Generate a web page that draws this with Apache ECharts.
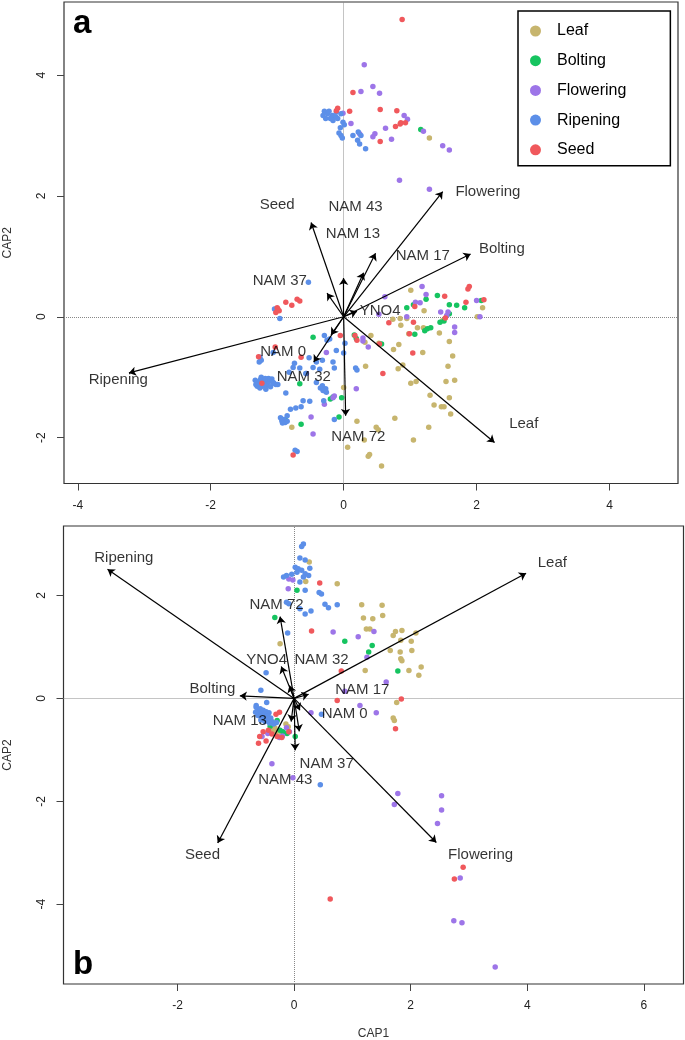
<!DOCTYPE html>
<html>
<head>
<meta charset="utf-8">
<script src="https://cdn.jsdelivr.net/npm/echarts@6/dist/echarts.min.js"></script>
<style>
html,body{margin:0;padding:0;background:#fff;}
#chart{width:685px;height:1040px;}
</style>
</head>
<body>
<div id="chart"></div>
<script>
// ---------- data (CAP1, CAP2) ----------
const GROUPS = ['Leaf', 'Bolting', 'Flowering', 'Ripening', 'Seed'];

// Panel a
const A_LEAF = [[1.29,2.96],[1.01,0.44],[1.21,0.10],[0.85,-0.03],[0.95,-0.03],[0.86,-0.14],[0.74,-0.04],[2.09,0.15],[2.01,0.0],[1.49,-0.06],[1.20,-0.18],[1.11,-0.18],[1.44,-0.27],[0.98,-0.28],[1.59,-0.41],[1.64,-0.65],[0.41,-0.31],[0.32,-0.42],[0.83,-0.46],[0.75,-0.54],[1.19,-0.59],[0.89,-0.80],[0.82,-0.86],[0.33,-0.82],[1.57,-0.82],[1.54,-1.07],[1.67,-1.05],[1.01,-1.10],[1.09,-1.07],[1.30,-1.30],[1.59,-1.34],[1.36,-1.46],[1.47,-1.49],[1.51,-1.49],[1.61,-1.61],[0.0,-1.17],[0.20,-1.73],[0.77,-1.68],[1.28,-1.83],[0.49,-1.83],[0.52,-1.87],[0.31,-2.04],[0.06,-2.16],[1.05,-2.04],[0.37,-2.31],[0.39,-2.28],[0.57,-2.47],[-0.78,-1.83],[0.53,-0.44]];
const A_BOLTING = [[1.16,3.10],[1.41,0.35],[1.24,0.29],[1.05,0.20],[0.95,0.15],[1.59,0.20],[1.70,0.19],[1.82,0.15],[2.07,0.27],[1.59,0.05],[1.51,-0.07],[1.45,-0.09],[1.31,-0.18],[1.22,-0.23],[1.26,-0.20],[1.07,-0.29],[0.57,-0.45],[0.16,-0.30],[0.19,-0.36],[-0.46,-0.34],[-0.66,-1.11],[-0.20,-1.36],[-0.16,-1.33],[-0.03,-1.34],[-0.88,-1.70],[-0.64,-1.78],[-0.07,-1.66]];
const A_FLOWERING = [[0.31,4.17],[0.44,3.81],[0.26,3.73],[0.54,3.70],[0.11,3.20],[-0.01,3.37],[0.91,3.33],[0.96,3.27],[0.63,3.12],[0.47,3.03],[0.44,2.98],[0.72,2.94],[1.20,3.07],[1.49,2.83],[1.59,2.76],[0.84,2.26],[1.29,2.11],[0.24,3.03],[1.18,0.50],[1.24,0.37],[0.62,0.33],[1.08,0.24],[1.15,0.23],[1.57,0.08],[1.55,0.02],[1.46,0.08],[1.67,-0.17],[1.67,-0.26],[2.00,0.27],[2.05,0.00],[0.95,0.00],[0.53,0.04],[0.29,-0.35],[0.29,-0.40],[0.37,-0.50],[0.19,-1.19],[-0.29,-1.45],[-0.14,-1.31],[-0.49,-1.66],[-0.46,-1.94],[-0.26,-0.59],[-0.56,-0.94],[-0.30,-1.22],[-0.16,-1.34]];
const A_RIPENING = [[-0.29,3.40],[-0.24,3.36],[-0.17,3.33],[-0.12,3.31],[-0.09,3.28],[-0.04,3.36],[-0.27,3.28],[-0.16,3.25],[-0.01,3.22],[0.01,3.18],[-0.05,3.13],[-0.04,3.00],[-0.07,3.04],[-0.02,2.96],[0.22,3.06],[0.26,3.00],[0.21,2.92],[0.24,2.86],[0.33,2.78],[0.14,3.00],[-0.22,3.40],[-0.11,3.39],[-0.20,3.28],[-0.31,3.33],[-0.53,0.57],[-1.01,0.10],[-0.96,-0.03],[-1.04,0.13],[-1.26,-0.67],[-1.24,-0.72],[-1.27,-0.75],[-1.06,-0.59],[-0.52,-0.68],[-0.41,-0.75],[-0.32,-0.72],[-0.11,-0.56],[0.0,-0.60],[-0.21,-0.37],[0.02,-0.44],[-0.29,-0.31],[-0.25,-0.39],[-0.74,-0.77],[-0.76,-0.84],[-0.66,-0.85],[-0.82,-0.92],[-0.57,-0.94],[-0.46,-0.84],[-0.36,-0.87],[-0.16,-0.75],[-0.14,-0.85],[0.18,-0.85],[0.20,-0.88],[-0.32,-1.14],[-0.27,-1.19],[-1.33,-1.05],[-1.30,-1.08],[-1.28,-1.12],[-1.25,-1.04],[-1.22,-1.15],[-1.20,-1.06],[-1.18,-1.10],[-1.15,-1.13],[-1.12,-1.07],[-1.10,-1.16],[-1.08,-1.03],[-1.05,-1.10],[-1.30,-1.15],[-1.26,-1.18],[-1.17,-1.20],[-1.13,-1.02],[-1.24,-1.00],[-1.02,-1.12],[-0.99,-1.12],[-1.06,-1.09],[-0.87,-1.26],[-1.32,-1.12],[-1.18,-1.02],[-0.41,-1.09],[-0.35,-1.18],[-0.31,-1.22],[-0.26,-1.25],[-0.30,-1.39],[-0.61,-1.39],[-0.51,-1.40],[-0.64,-1.49],[-0.72,-1.51],[-0.80,-1.53],[-0.85,-1.64],[-0.90,-1.70],[-0.93,-1.72],[-0.88,-1.75],[-0.95,-1.67],[-0.85,-1.73],[-0.92,-1.76],[-0.14,-1.70],[-0.70,-2.23],[-0.73,-2.21]];
const A_SEED = [[0.88,4.92],[0.14,3.71],[-0.09,3.45],[-0.11,3.41],[0.09,3.40],[0.55,3.43],[0.80,3.41],[0.86,3.21],[0.78,3.15],[0.93,3.21],[0.85,3.19],[0.55,2.90],[-0.87,0.24],[-0.78,0.19],[-0.70,0.29],[-0.66,0.26],[-1.00,0.15],[-0.97,0.10],[-1.02,0.07],[-0.99,0.13],[1.52,0.34],[1.89,0.50],[1.87,0.46],[1.07,0.17],[1.84,0.24],[2.11,0.28],[1.53,-0.02],[0.68,-0.10],[1.05,-0.09],[0.99,-0.28],[1.04,-0.60],[0.59,-0.94],[0.54,-0.45],[0.20,-0.39],[0.17,-0.31],[-0.05,-0.31],[-0.64,-0.67],[-1.03,-0.50],[-1.28,-0.66],[-1.23,-1.10],[-0.76,-2.29]];

// Panel b
const B_LEAF = [[0.26,2.65],[0.20,2.27],[0.74,2.23],[-0.24,1.06],[1.16,1.82],[1.51,1.81],[1.19,1.56],[1.35,1.55],[1.52,1.61],[1.24,1.35],[1.30,1.35],[1.70,1.22],[1.74,1.30],[1.85,1.32],[2.09,1.27],[2.01,1.11],[1.83,1.13],[1.65,0.93],[1.82,0.90],[2.02,0.93],[1.83,0.77],[1.85,0.73],[2.18,0.61],[2.14,0.45],[1.97,0.54],[1.22,0.54],[1.76,-0.08],[1.70,-0.38],[1.72,-0.43],[-0.38,-0.62],[-0.33,-0.57],[-0.14,-0.50],[-0.30,-0.65],[-0.10,-0.55],[-0.22,-0.70]];
const B_BOLTING = [[-0.33,1.57],[0.05,2.10],[0.87,1.11],[1.34,1.03],[1.28,0.90],[1.78,0.53],[-0.29,-0.43],[-0.41,-0.54],[-0.19,-0.65],[-0.24,-0.62],[0.02,-0.74],[-0.12,-0.68]];
const B_FLOWERING = [[-0.09,2.32],[-0.02,2.30],[-0.10,2.13],[0.67,1.29],[1.10,1.20],[1.37,1.30],[1.25,0.80],[0.87,0.14],[1.58,0.32],[1.13,-0.14],[1.41,-0.28],[0.29,-0.28],[-0.38,-1.27],[-0.02,-1.54],[1.78,-1.85],[1.72,-2.06],[2.53,-1.89],[2.53,-2.17],[2.46,-2.43],[2.85,-3.49],[2.74,-4.32],[2.88,-4.36],[3.45,-5.22],[-0.55,-0.74],[-0.25,-0.76],[-0.13,-0.57],[-0.08,-0.65],[-0.45,-0.68],[-0.20,-0.73]];
const B_RIPENING = [[0.16,3.00],[0.13,2.95],[0.10,2.73],[0.19,2.69],[0.02,2.55],[0.07,2.52],[0.13,2.49],[0.05,2.45],[0.19,2.42],[0.25,2.39],[0.16,2.36],[-0.04,2.41],[-0.13,2.39],[-0.18,2.36],[0.27,2.53],[0.10,2.26],[0.19,2.10],[0.43,2.06],[0.47,2.03],[0.53,1.83],[0.59,1.76],[0.74,1.82],[-0.13,1.87],[-0.09,1.84],[0.10,1.74],[0.19,1.64],[0.29,1.70],[-0.11,1.27],[-0.48,0.50],[-0.57,0.16],[-0.65,-0.14],[-0.47,-0.08],[0.47,-0.31],[0.45,-1.68],[-0.65,-0.17],[-0.62,-0.22],[-0.60,-0.25],[-0.58,-0.20],[-0.55,-0.28],[-0.53,-0.23],[-0.50,-0.30],[-0.48,-0.26],[-0.45,-0.33],[-0.43,-0.28],[-0.60,-0.30],[-0.56,-0.35],[-0.52,-0.38],[-0.48,-0.40],[-0.44,-0.43],[-0.40,-0.38],[-0.38,-0.45],[-0.35,-0.50],[-0.62,-0.33],[-0.66,-0.27],[-0.50,-0.45],[-0.42,-0.48],[-0.30,-0.47],[-0.57,-0.42],[-0.47,-0.35]];
const B_SEED = [[0.44,2.24],[0.30,1.31],[0.81,0.53],[0.74,-0.04],[1.84,-0.01],[1.74,-0.59],[2.90,-3.28],[2.75,-3.51],[0.62,-3.90],[-0.25,-0.27],[-0.31,-0.31],[-0.44,-0.62],[-0.38,-0.69],[-0.61,-0.87],[-0.48,-0.83],[-0.29,-0.74],[-0.21,-0.76],[-0.59,-0.74],[-0.09,-0.65],[-0.53,-0.65]];

// Biplot vectors: [name, tipX, tipY, labelX, labelY]
const A_VECTORS = [
  ['Ripening', -3.23, -0.93, -3.39, -1.05],
  ['Leaf', 2.27, -2.08, 2.71, -1.77],
  ['Flowering', 1.49, 2.07, 2.17, 2.07],
  ['Bolting', 1.91, 1.04, 2.38, 1.12],
  ['Seed', -0.49, 1.56, -1.00, 1.85],
  ['NAM 43', 0.00, 0.64, 0.18, 1.82],
  ['NAM 13', 0.30, 0.73, 0.14, 1.37],
  ['NAM 17', 0.48, 1.05, 1.19, 1.01],
  ['NAM 37', -0.25, 0.39, -0.96, 0.60],
  ['YNO4', 0.20, 0.09, 0.55, 0.09],
  ['NAM 0', -0.19, -0.30, -0.91, -0.58],
  ['NAM 32', -0.45, -0.75, -0.60, -1.00],
  ['NAM 72', 0.03, -1.64, 0.22, -1.98]
];
const B_VECTORS = [
  ['Ripening', -3.20, 2.51, -2.92, 2.74],
  ['Leaf', 3.98, 2.43, 4.43, 2.64],
  ['Flowering', 2.44, -2.80, 3.20, -3.04],
  ['Seed', -1.31, -2.81, -1.57, -3.04],
  ['Bolting', -0.93, 0.05, -1.40, 0.18],
  ['NAM 72', -0.24, 1.59, -0.30, 1.81],
  ['YNO4', -0.22, 0.62, -0.47, 0.74],
  ['NAM 32', -0.08, 0.25, 0.47, 0.74],
  ['NAM 17', 0.25, 0.08, 1.17, 0.17],
  ['NAM 0', 0.10, -0.23, 0.87, -0.30],
  ['NAM 37', 0.02, -1.01, 0.56, -1.27],
  ['NAM 13', -0.05, -0.45, -0.93, -0.43],
  ['NAM 43', 0.09, -0.64, -0.15, -1.59]
];

// Tick labels
const A_XTICKS = [-4, -2, 0, 2, 4];
const A_YTICKS = [-2, 0, 2, 4];
const B_XTICKS = [-2, 0, 2, 4, 6];
const B_YTICKS = [-4, -2, 0, 2];

// ---------- styling ----------
const FONT = '"Liberation Sans", Arial, Helvetica, sans-serif';
const COLORS = {Leaf:'#C7B56E', Bolting:'#16C460', Flowering:'#9D75E8', Ripening:'#5C8FE8', Seed:'#F0585C'};
const PANEL_A = {Leaf:A_LEAF, Bolting:A_BOLTING, Flowering:A_FLOWERING, Ripening:A_RIPENING, Seed:A_SEED};
const PANEL_B = {Leaf:B_LEAF, Bolting:B_BOLTING, Flowering:B_FLOWERING, Ripening:B_RIPENING, Seed:B_SEED};

function xAxisCfg(gi, min, max, ticks, name) {
  return {
    type:'value', gridIndex:gi, min:min, max:max,
    name: name || '', nameLocation:'middle', nameGap:44,
    nameTextStyle:{fontSize:12, color:'#333', fontFamily:FONT},
    axisLine:{show:false, onZero:false},
    splitLine:{show:false},
    axisTick:{show:true, length:7, customValues:ticks, lineStyle:{color:'#444', width:1}},
    axisLabel:{show:true, customValues:ticks, margin:16, fontSize:12, color:'#222', fontFamily:FONT}
  };
}
function yAxisCfg(gi, min, max, ticks) {
  return {
    type:'value', gridIndex:gi, min:min, max:max,
    name:'CAP2', nameLocation:'middle', nameGap:50,
    nameTextStyle:{fontSize:12, color:'#333', fontFamily:FONT},
    axisLine:{show:false, onZero:false},
    splitLine:{show:false},
    axisTick:{show:true, length:7, customValues:ticks, lineStyle:{color:'#444', width:1}},
    axisLabel:{show:true, customValues:ticks, rotate:90, margin:16, fontSize:12, color:'#222', fontFamily:FONT}
  };
}

const series = [];
[PANEL_A, PANEL_B].forEach((panel, gi) => {
  GROUPS.forEach((g, k) => {
    const s = {
      type:'scatter', name:g, xAxisIndex:gi, yAxisIndex:gi,
      data: panel[g], symbol:'circle', symbolSize:5.5,
      itemStyle:{color:COLORS[g], opacity:1}, z:2, silent:true
    };
    if (k === 0) {
      s.markLine = {
        silent:true, symbol:['none','none'], label:{show:false},
        lineStyle:{type:'dotted', color:'#888', width:1},
        data:[{xAxis:0}, {yAxis:0}], z:1
      };
    }
    series.push(s);
  });
});
[A_VECTORS, B_VECTORS].forEach((vecs, gi) => {
  series.push({
    type:'lines', coordinateSystem:'cartesian2d', xAxisIndex:gi, yAxisIndex:gi,
    data: vecs.map(v => ({coords:[[0,0],[v[1],v[2]]]})),
    symbol:['none','arrow'], symbolSize:[0,7],
    lineStyle:{color:'#000', width:1.2, opacity:1}, z:3, silent:true
  });
  series.push({
    type:'scatter', xAxisIndex:gi, yAxisIndex:gi, symbolSize:0,
    data: vecs.map(v => ({name:v[0], value:[v[3], v[4]]})),
    label:{show:true, position:'inside', formatter:'{b}', color:'#000', fontSize:15, fontFamily:FONT},
    z:4, silent:true
  });
});

const option = {
  animation:false,
  backgroundColor:'#fff',
  grid:[
    {left:64, top:2, width:614, height:481.5, show:true, borderColor:'#333', borderWidth:1.2, backgroundColor:'transparent', containLabel:false, outerBoundsMode:'none'},
    {left:63.5, top:526, width:620, height:458, show:true, borderColor:'#333', borderWidth:1.2, backgroundColor:'transparent', containLabel:false, outerBoundsMode:'none'}
  ],
  xAxis:[
    xAxisCfg(0, -4.207, 5.03, A_XTICKS, ''),
    xAxisCfg(1, -3.955, 6.68, B_XTICKS, 'CAP1')
  ],
  yAxis:[
    yAxisCfg(0, -2.76, 5.21, A_YTICKS),
    yAxisCfg(1, -5.55, 3.35, B_YTICKS)
  ],
  legend:{
    data:GROUPS, orient:'vertical', left:518, top:11,
    padding:[11, 44, 7, 12], itemGap:11.7, itemWidth:11, itemHeight:11,
    icon:'circle', borderColor:'#000', borderWidth:1.5, backgroundColor:'#fff',
    selectedMode:false,
    textStyle:{fontSize:16, color:'#000', fontFamily:FONT, lineHeight:18, padding:[0,0,0,11]}
  },
  graphic:[
    {type:'text', left:73, top:7, style:{text:'a', font:'bold 33px ' + FONT, fill:'#000'}, z:10},
    {type:'text', left:73, top:948, style:{text:'b', font:'bold 33px ' + FONT, fill:'#000'}, z:10}
  ],
  series:series
};

const chart = echarts.init(document.getElementById('chart'), null, {renderer:'canvas'});
chart.setOption(option);
</script>
</body>
</html>
